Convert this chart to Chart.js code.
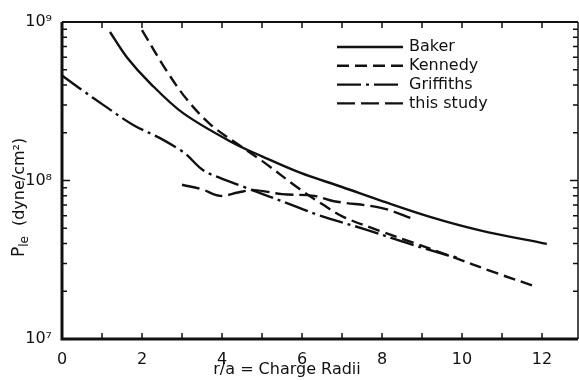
<!DOCTYPE html>
<html>
<head>
<meta charset="utf-8">
<script src="https://cdn.jsdelivr.net/npm/chart.js@4"></script>
<style>
    html, body { margin: 0; padding: 0; background: #fff; }
    #wrap { width: 579px; height: 380px; }
</style>
</head>
<body>
<div id="wrap"><canvas id="chart"></canvas></div>
<script>
// values (x in charge radii, y in dyne/cm2)
const bakerX = [1.2, 1.62, 2.2, 3.02, 4.27, 5.0, 5.95, 7.0, 7.95, 9.2, 10.45, 12.12];
const bakerY = [8.65e8, 6.0e8, 4.12e8, 2.67e8, 1.73e8, 1.42e8, 1.12e8, 9.1e7, 7.5e7, 5.9e7, 4.85e7, 3.98e7];

const kennedyX = [2.0, 2.62, 3.12, 3.7, 4.37, 5.0, 5.95, 6.5, 7.03, 7.95, 8.78, 9.62, 10.87, 11.87];
const kennedyY = [8.9e8, 4.9e8, 3.25e8, 2.27e8, 1.71e8, 1.33e8, 8.8e7, 7.1e7, 5.9e7, 4.8e7, 4.05e7, 3.4e7, 2.6e7, 2.13e7];

const griffithsX = [0, 0.5, 1.03, 1.78, 2.45, 2.95, 3.12, 3.53, 3.95, 4.45, 5.95, 6.45, 7.6, 8.6, 9.6, 9.9];
const griffithsY = [4.6e8, 3.72e8, 3.0e8, 2.24e8, 1.85e8, 1.56e8, 1.45e8, 1.16e8, 1.04e8, 9.3e7, 6.7e7, 6.0e7, 4.9e7, 4.05e7, 3.4e7, 3.25e7];

const studyX = [3.0, 3.5, 3.95, 4.4, 4.8, 5.5, 6.3, 6.8, 8.0, 8.8];
const studyY = [9.4e7, 8.8e7, 8.0e7, 8.4e7, 8.7e7, 8.2e7, 8.0e7, 7.4e7, 6.7e7, 5.7e7];

const seriesLabels = ['Baker', 'Kennedy', 'Griffiths', 'this study'];
const xTickLabels = ['0', '2', '4', '6', '8', '10', '12'];
const yTickLabels = { 7: '10\u2077', 8: '10\u2078', 9: '10\u2079' };

const FONT = "'DejaVu Sans', sans-serif";
const INK = '#111';

function pts(xs, ys) {
    return xs.map((x, i) => ({ x: x, y: ys[i] }));
}

function line(label, data, dash) {
    return {
        label: label,
        data: data,
        borderColor: INK,
        borderWidth: 2.4,
        borderDash: dash,
        pointRadius: 0,
        fill: false,
        tension: 0.35
    };
}

// frame, inward ticks, legend and titles
const decorPlugin = {
    id: 'decor',
    afterDraw(chart) {
        const ctx = chart.ctx;
        const a = chart.chartArea;
        const xs = chart.scales.x;
        const ys = chart.scales.y;
        ctx.save();
        ctx.strokeStyle = INK;
        ctx.setLineDash([]);

        // frame
        ctx.lineWidth = 3;
        ctx.beginPath();
        ctx.moveTo(a.left, a.top);
        ctx.lineTo(a.left, a.bottom);
        ctx.lineTo(a.right, a.bottom);
        ctx.stroke();
        ctx.lineWidth = 2;
        ctx.beginPath();
        ctx.moveTo(a.left, a.top);
        ctx.lineTo(a.right, a.top);
        ctx.stroke();
        ctx.lineWidth = 1.5;
        ctx.beginPath();
        ctx.moveTo(a.right, a.top);
        ctx.lineTo(a.right, a.bottom);
        ctx.stroke();

        // x ticks, top and bottom, pointing in
        ctx.lineWidth = 1.5;
        for (let i = 1; i <= 12; i++) {
            const px = xs.getPixelForValue(i);
            ctx.beginPath();
            ctx.moveTo(px, a.bottom);
            ctx.lineTo(px, a.bottom - 6);
            ctx.moveTo(px, a.top);
            ctx.lineTo(px, a.top + 6);
            ctx.stroke();
        }

        // y ticks, left and right, pointing in
        for (let d = 7; d <= 8; d++) {
            for (let k = 1; k <= 9; k++) {
                const py = ys.getPixelForValue(k * Math.pow(10, d));
                const len = k === 1 ? 8 : 5;
                ctx.beginPath();
                ctx.moveTo(a.left, py);
                ctx.lineTo(a.left + len, py);
                ctx.moveTo(a.right, py);
                ctx.lineTo(a.right - len, py);
                ctx.stroke();
            }
        }

        // legend inside the plot
        ctx.fillStyle = INK;
        ctx.font = '16px ' + FONT;
        ctx.textBaseline = 'middle';
        ctx.textAlign = 'left';
        chart.data.datasets.forEach((ds, i) => {
            const y = 47 + i * 18.8;
            ctx.lineWidth = 2.4;
            ctx.setLineDash(ds.borderDash || []);
            ctx.beginPath();
            ctx.moveTo(337, y);
            ctx.lineTo(403, y);
            ctx.stroke();
            ctx.setLineDash([]);
            ctx.fillText(ds.label, 409, y);
        });

        // axis titles
        ctx.font = '16px ' + FONT;
        ctx.textAlign = 'center';
        ctx.fillText('r/a = Charge Radii', 287, 370);

        ctx.translate(20, 191);
        ctx.rotate(-Math.PI / 2);
        ctx.textAlign = 'left';
        ctx.font = '17px ' + FONT;
        let tx = -66;
        ctx.fillText('P', tx, 0);
        tx += ctx.measureText('P').width;
        ctx.font = '12px ' + FONT;
        ctx.fillText('le', tx, 5);
        tx += ctx.measureText('le').width + 10;
        ctx.font = '16px ' + FONT;
        ctx.fillText('(dyne/cm\u00B2)', tx, 0);

        ctx.restore();
    }
};

new Chart(document.getElementById('chart'), {
    type: 'line',
    data: {
        datasets: [
            line(seriesLabels[0], pts(bakerX, bakerY), []),
            line(seriesLabels[1], pts(kennedyX, kennedyY), [12, 6]),
            line(seriesLabels[2], pts(griffithsX, griffithsY), [24, 5, 3, 5]),
            line(seriesLabels[3], pts(studyX, studyY), [18, 6])
        ]
    },
    options: {
        responsive: true,
        maintainAspectRatio: false,
        animation: false,
        layout: { padding: { top: 22, right: 1, left: 0, bottom: 0 } },
        plugins: {
            legend: { display: false },
            tooltip: { enabled: false }
        },
        scales: {
            x: {
                type: 'linear',
                min: 0,
                max: 12.9,
                grid: { display: false },
                border: { display: false },
                ticks: {
                    stepSize: 2,
                    includeBounds: false,
                    maxRotation: 0,
                    padding: 3,
                    color: INK,
                    font: { family: FONT, size: 16 },
                    callback: v => xTickLabels[v / 2] !== undefined && Number.isInteger(v / 2) ? xTickLabels[v / 2] : ''
                },
                afterFit: s => { s.height = 41; }
            },
            y: {
                type: 'logarithmic',
                min: 1e7,
                max: 1e9,
                grid: { display: false },
                border: { display: false },
                ticks: {
                    autoSkip: false,
                    padding: 2,
                    color: INK,
                    font: { family: FONT, size: 16 },
                    callback: v => {
                        const e = Math.log10(v);
                        return Math.abs(e - Math.round(e)) < 1e-9 ? (yTickLabels[Math.round(e)] || '') : '';
                    }
                },
                afterFit: s => { s.width = 62; }
            }
        }
    },
    plugins: [decorPlugin]
});
</script>
</body>
</html>
